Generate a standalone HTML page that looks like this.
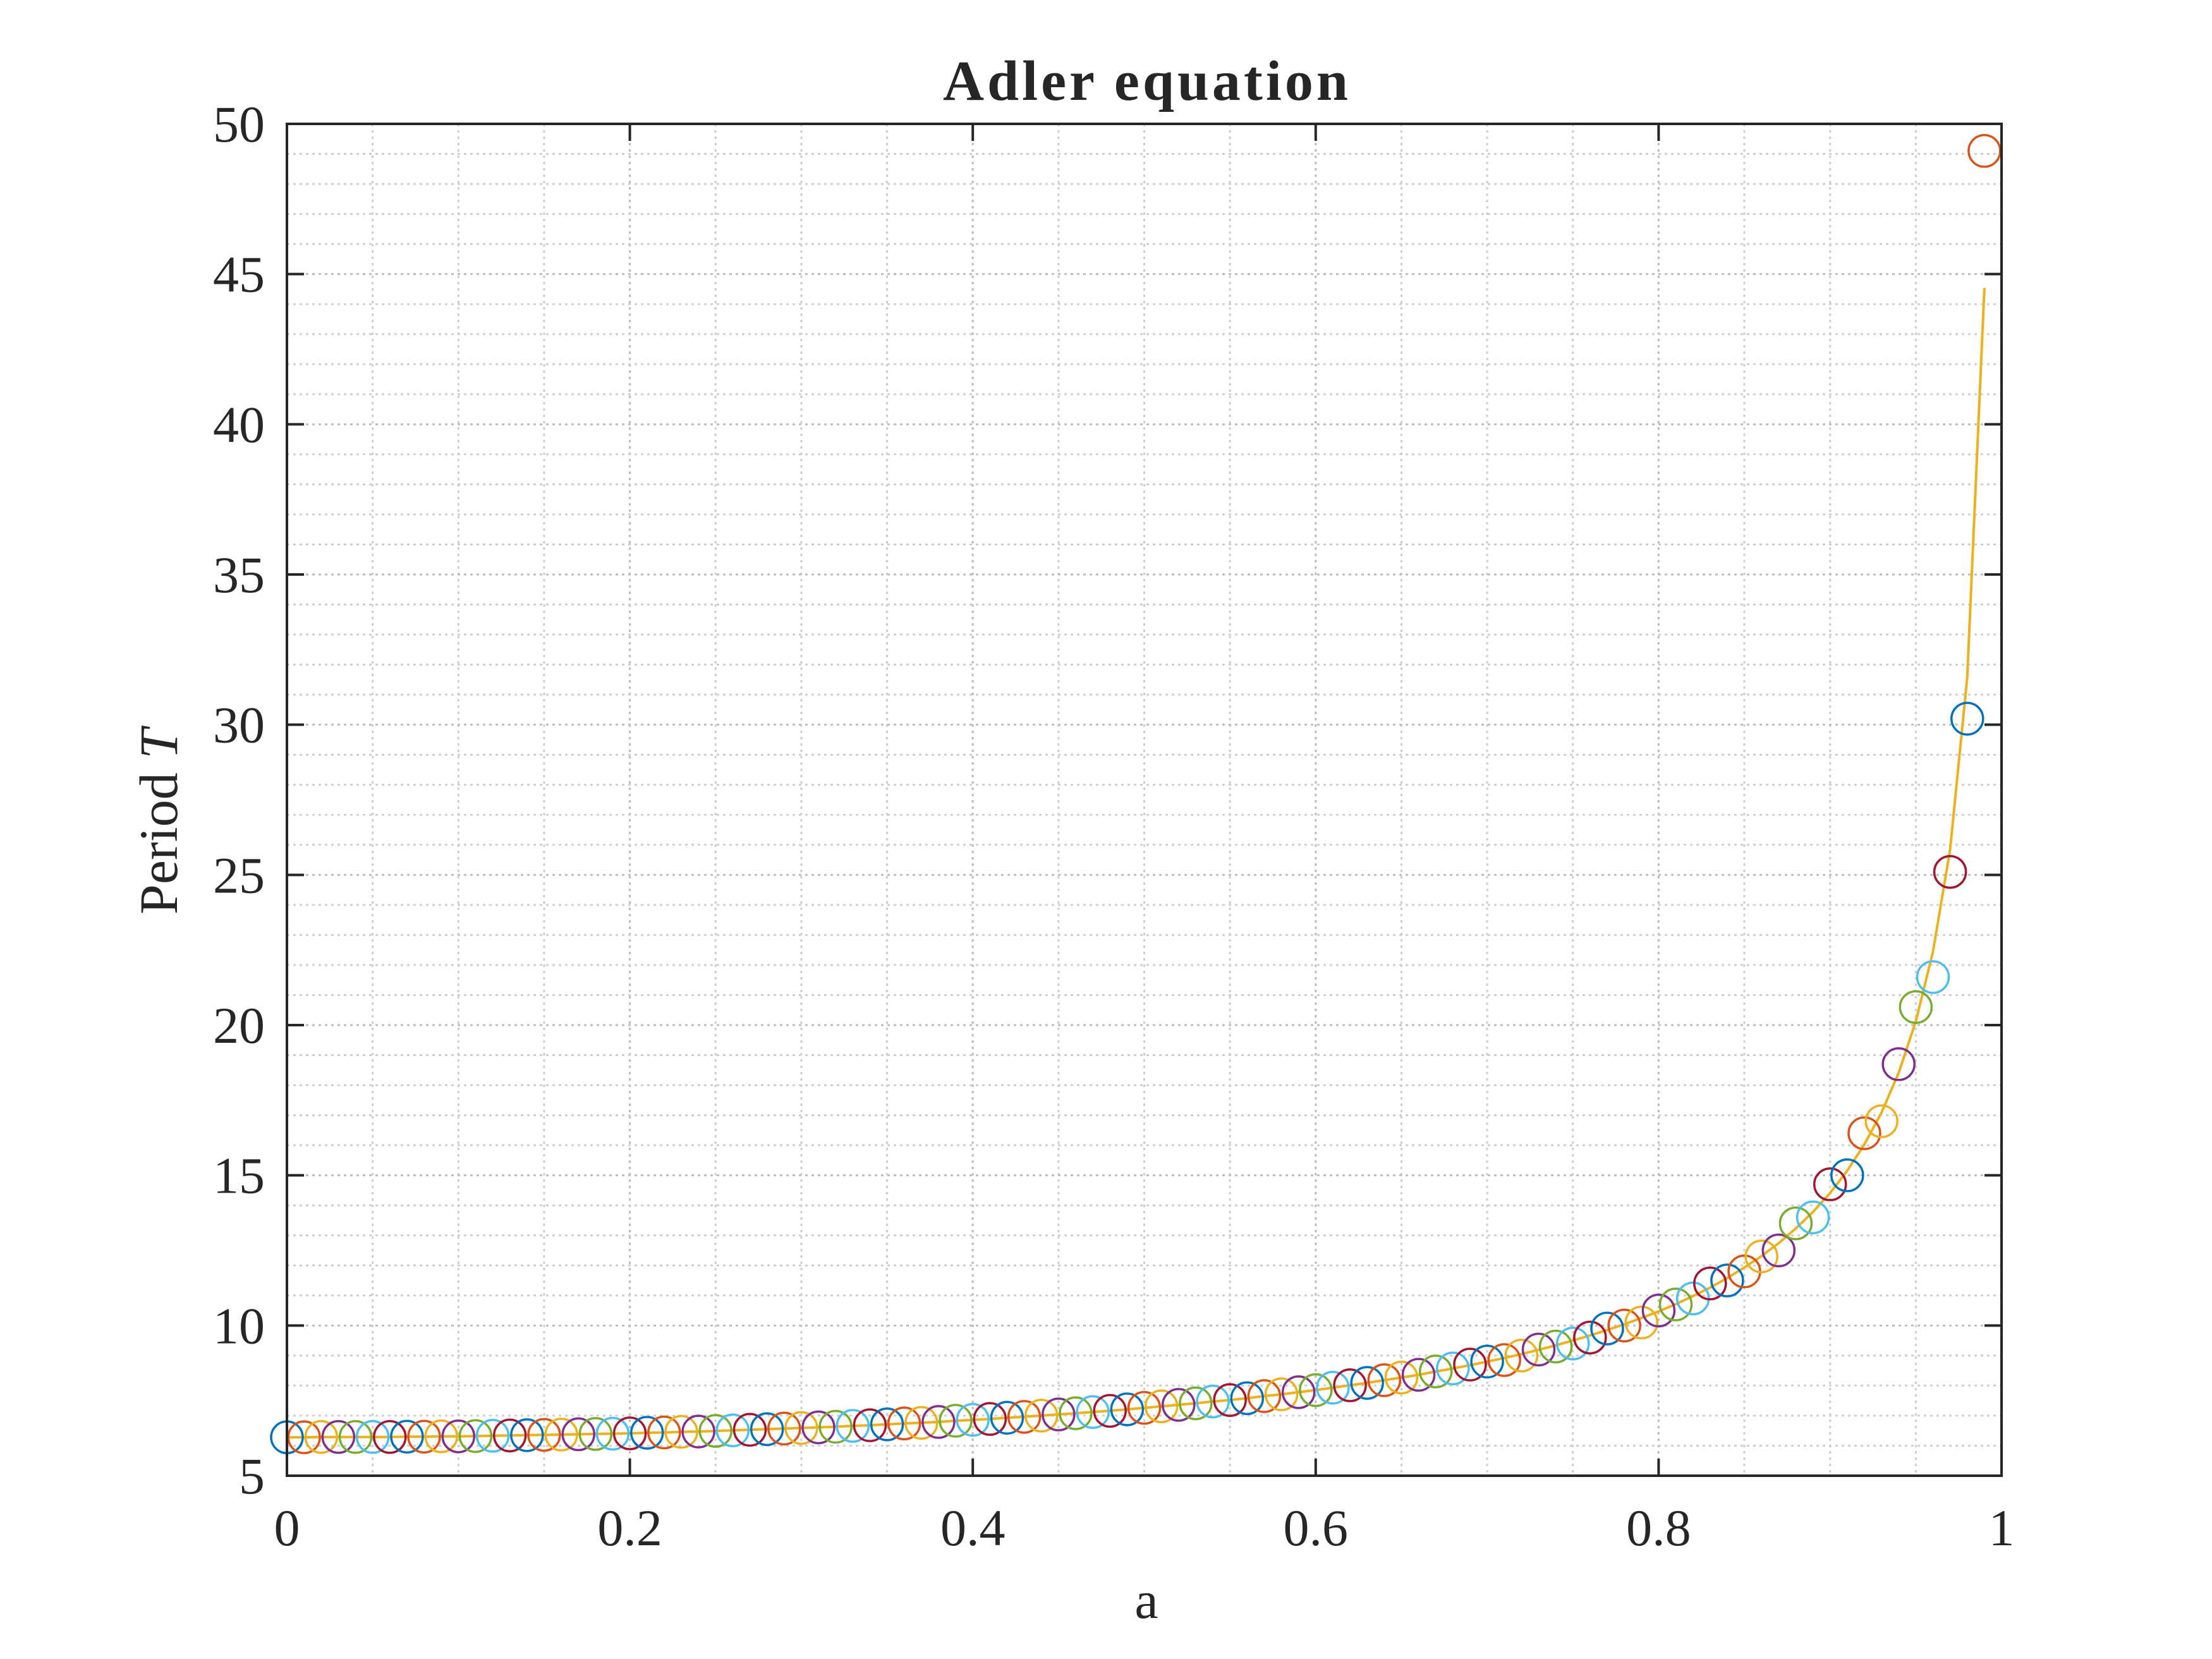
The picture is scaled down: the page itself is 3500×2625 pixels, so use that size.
<!DOCTYPE html>
<html><head><meta charset="utf-8"><style>
html,body{margin:0;padding:0;background:#fff;}
svg{display:block;}
text{font-family:"Liberation Serif",serif;fill:#262626;}
</style></head><body>
<svg id="chart" width="3500" height="2625" viewBox="0 0 3500 2625" xmlns="http://www.w3.org/2000/svg">
<rect width="3500" height="2625" fill="#fff"/>
<g id="grid"></g>
<g id="series"></g>
<g id="axes"></g>
<text x="1815" y="158" font-size="90" font-weight="bold" letter-spacing="5" text-anchor="middle">Adler equation</text>
<text x="1814" y="2560" font-size="84" text-anchor="middle">a</text>
<text transform="translate(280,1300) rotate(-90)" font-size="86" text-anchor="middle">Period <tspan font-style="italic">T</tspan></text>
</svg>
<script>
const aValues = [0,0.01,0.02,0.03,0.04,0.05,0.06,0.07,0.08,0.09,0.1,0.11,0.12,0.13,0.14,0.15,0.16,0.17,0.18,0.19,0.2,0.21,0.22,0.23,0.24,0.25,0.26,0.27,0.28,0.29,0.3,0.31,0.32,0.33,0.34,0.35,0.36,0.37,0.38,0.39,0.4,0.41,0.42,0.43,0.44,0.45,0.46,0.47,0.48,0.49,0.5,0.51,0.52,0.53,0.54,0.55,0.56,0.57,0.58,0.59,0.6,0.61,0.62,0.63,0.64,0.65,0.66,0.67,0.68,0.69,0.7,0.71,0.72,0.73,0.74,0.75,0.76,0.77,0.78,0.79,0.8,0.81,0.82,0.83,0.84,0.85,0.86,0.87,0.88,0.89,0.9,0.91,0.92,0.93,0.94,0.95,0.96,0.97,0.98,0.99];
const curveT = [6.28,6.28,6.29,6.29,6.29,6.29,6.29,6.30,6.30,6.31,6.31,6.32,6.33,6.34,6.35,6.36,6.37,6.38,6.39,6.40,6.41,6.43,6.44,6.46,6.47,6.49,6.51,6.53,6.55,6.57,6.59,6.61,6.63,6.66,6.68,6.71,6.74,6.76,6.79,6.83,6.86,6.89,6.93,6.96,7.00,7.04,7.08,7.12,7.16,7.21,7.26,7.31,7.36,7.41,7.47,7.52,7.58,7.65,7.71,7.78,7.85,7.93,8.01,8.09,8.18,8.27,8.36,8.47,8.57,8.68,8.80,8.92,9.05,9.19,9.34,9.50,9.67,9.85,10.04,10.25,10.47,10.71,10.98,11.26,11.58,11.93,12.31,12.74,13.23,13.78,14.41,15.15,16.03,17.09,18.41,20.12,22.44,25.84,31.57,44.54];
const measuredT = [6.28,6.28,6.29,6.29,6.29,6.29,6.29,6.30,6.30,6.31,6.31,6.32,6.33,6.34,6.35,6.36,6.37,6.38,6.39,6.40,6.41,6.43,6.44,6.46,6.47,6.49,6.51,6.53,6.55,6.57,6.59,6.61,6.63,6.66,6.68,6.71,6.74,6.76,6.79,6.83,6.86,6.89,6.93,6.96,7.00,7.04,7.08,7.12,7.16,7.21,7.26,7.31,7.36,7.41,7.47,7.52,7.58,7.65,7.71,7.78,7.85,7.93,8.01,8.09,8.18,8.27,8.36,8.47,8.57,8.70,8.80,8.85,9.00,9.20,9.30,9.40,9.60,9.90,10.0,10.1,10.5,10.7,10.9,11.4,11.5,11.8,12.3,12.5,13.4,13.6,14.7,15.0,16.4,16.8,18.7,20.6,21.6,25.1,30.2,49.1];
const xTicks = [0,0.2,0.4,0.6,0.8,1];
const xTickLabels = ["0","0.2","0.4","0.6","0.8","1"];
const yTicks = [5,10,15,20,25,30,35,40,45,50];
const yTickLabels = ["5","10","15","20","25","30","35","40","45","50"];
const colors = ["#0072BD","#D95319","#EDB120","#7E2F8E","#77AC30","#4DBEEE","#A2142F"];

const L=454,R=3167,T=196,B=2335;
const xs=v=>L+(v-0)/(1-0)*(R-L);
const ys=v=>B-(v-5)/(50-5)*(B-T);
const NS="http://www.w3.org/2000/svg";
function mk(tag,attrs,parent){const e=document.createElementNS(NS,tag);for(const k in attrs)e.setAttribute(k,attrs[k]);parent.appendChild(e);return e;}
const grid=document.getElementById('grid'),series=document.getElementById('series'),axes=document.getElementById('axes');

for(let i=0;i<=20;i++){const v=i*0.05;
  const g=mk('line',{x1:xs(v),x2:xs(v),y1:T,y2:B,stroke:i%4===0?'#bdbdbd':'#cfcfcf','stroke-width':3,'stroke-dasharray':'4 6'},grid);
  
  }
for(let v=5;v<=50;v++){
  const g=mk('line',{x1:L,x2:R,y1:ys(v),y2:ys(v),stroke:v%5===0?'#bdbdbd':'#cfcfcf','stroke-width':3,'stroke-dasharray':'4 6'},grid);
  
  }

let d='';aValues.forEach((a,i)=>{d+=(i?'L':'M')+xs(a).toFixed(1)+' '+ys(curveT[i]).toFixed(1);});
const line=mk('path',{d:d,fill:'none',stroke:'#EDB120','stroke-width':4},series);



aValues.forEach((a,i)=>{
  const c=mk('circle',{cx:xs(a),cy:ys(measuredT[i]),r:25,fill:'none',stroke:colors[i%7],'stroke-width':3.5},series);
  
  
});

const box=mk('rect',{x:L,y:T,width:R-L,height:B-T,fill:'none',stroke:'#262626','stroke-width':4},axes);


xTicks.forEach((v,i)=>{
  const x=xs(v);
  mk('line',{x1:x,x2:x,y1:B,y2:B-27,stroke:'#262626','stroke-width':4},axes);
  mk('line',{x1:x,x2:x,y1:T,y2:T+27,stroke:'#262626','stroke-width':4},axes);
  const t=mk('text',{x:x,y:B+110,'font-size':82,'text-anchor':'middle'},axes);
  t.textContent=xTickLabels[i];
  
  
});
yTicks.forEach((v,i)=>{
  const y=ys(v);
  mk('line',{x1:L,x2:L+27,y1:y,y2:y,stroke:'#262626','stroke-width':4},axes);
  mk('line',{x1:R,x2:R-27,y1:y,y2:y,stroke:'#262626','stroke-width':4},axes);
  const t=mk('text',{x:L-35,y:y+28,'font-size':82,'text-anchor':'end'},axes);
  t.textContent=yTickLabels[i];
  
  
});
</script>
</body></html>
